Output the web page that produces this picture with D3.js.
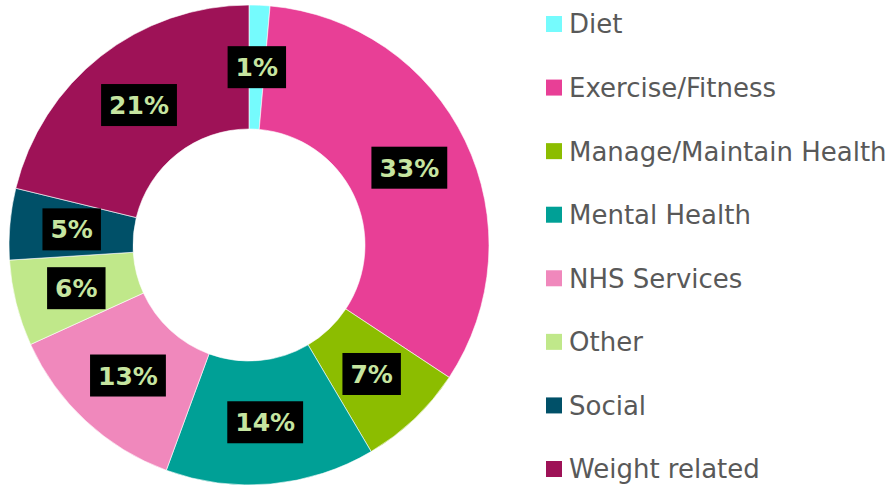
<!DOCTYPE html>
<html>
<head>
<meta charset="utf-8">
<script src="https://d3js.org/d3.v7.min.js"></script>
<style>
  body { margin: 0; background: #fff; }
  svg { display: block; }
</style>
</head>
<body>
<script>
var width = 894,
    height = 486;

// slice shares in percent
var categories = ["Diet", "Exercise/Fitness", "Manage/Maintain Health", "Mental Health",
                  "NHS Services", "Other", "Social", "Weight related"];
var shares = [1.4, 32.9, 7.2, 14.1, 12.6, 5.8, 4.8, 21.2];
var colours = ["#75FBFD", "#E83F96", "#8CBD00", "#00A096", "#F088BC", "#C0E88A", "#005068", "#9E1257"];

var svg = d3.select("body").append("svg")
    .attr("width", width)
    .attr("height", height);

var cx = 249, cy = 245,
    outerR = 240, innerR = 116;

var colour = d3.scaleOrdinal().domain(categories).range(colours);

var pie = d3.pie().sort(null).value(function(d) { return d.value; });
var arc = d3.arc().innerRadius(innerR).outerRadius(outerR);

var data = categories.map(function(c, i) { return {name: c, value: shares[i]}; });

var g = svg.append("g").attr("transform", "translate(" + cx + "," + cy + ")");

g.selectAll(".slice")
    .data(pie(data))
    .enter()
    .append("path")
    .attr("class", "slice")
    .attr("d", arc)
    .attr("fill", function(d) { return colour(d.data.name); })
    .attr("stroke", "#fff")
    .attr("stroke-width", 0.6);

// data labels on black boxes
var labels = g.selectAll(".lbl")
    .data(pie(data))
    .enter()
    .append("g")
    .attr("class", "lbl")
    .attr("transform", function(d) {
        var c = arc.centroid(d);
        return "translate(" + c[0] + "," + c[1] + ")";
    });

labels.append("text")
    .attr("text-anchor", "middle")
    .attr("dy", "0.36em")
    .attr("font-family", "'DejaVu Sans', sans-serif")
    .attr("font-weight", "bold")
    .attr("font-size", 25)
    .attr("fill", "#C6E5A0")
    .text(function(d) { return Math.round(d.data.value) + "%"; })
    .each(function() {
        var b = this.getBBox();
        d3.select(this.parentNode).insert("rect", "text")
            .attr("x", b.x - 8)
            .attr("y", -21)
            .attr("width", b.width + 16)
            .attr("height", 42)
            .attr("fill", "#000");
    });

// legend
var legend = svg.append("g").attr("transform", "translate(546,0)");
var rowY = d3.scalePoint().domain(categories).range([24, 469]);

var item = legend.selectAll(".item")
    .data(categories)
    .enter()
    .append("g")
    .attr("class", "item")
    .attr("transform", function(d) { return "translate(0," + rowY(d) + ")"; });

item.append("rect")
    .attr("x", 0)
    .attr("y", -8)
    .attr("width", 16)
    .attr("height", 16)
    .attr("fill", function(d) { return colour(d); });

item.append("text")
    .attr("x", 23)
    .attr("dy", "0.36em")
    .attr("font-family", "'DejaVu Sans', sans-serif")
    .attr("font-size", 26)
    .attr("fill", "#595959")
    .text(function(d) { return d; });
</script>
</body>
</html>
